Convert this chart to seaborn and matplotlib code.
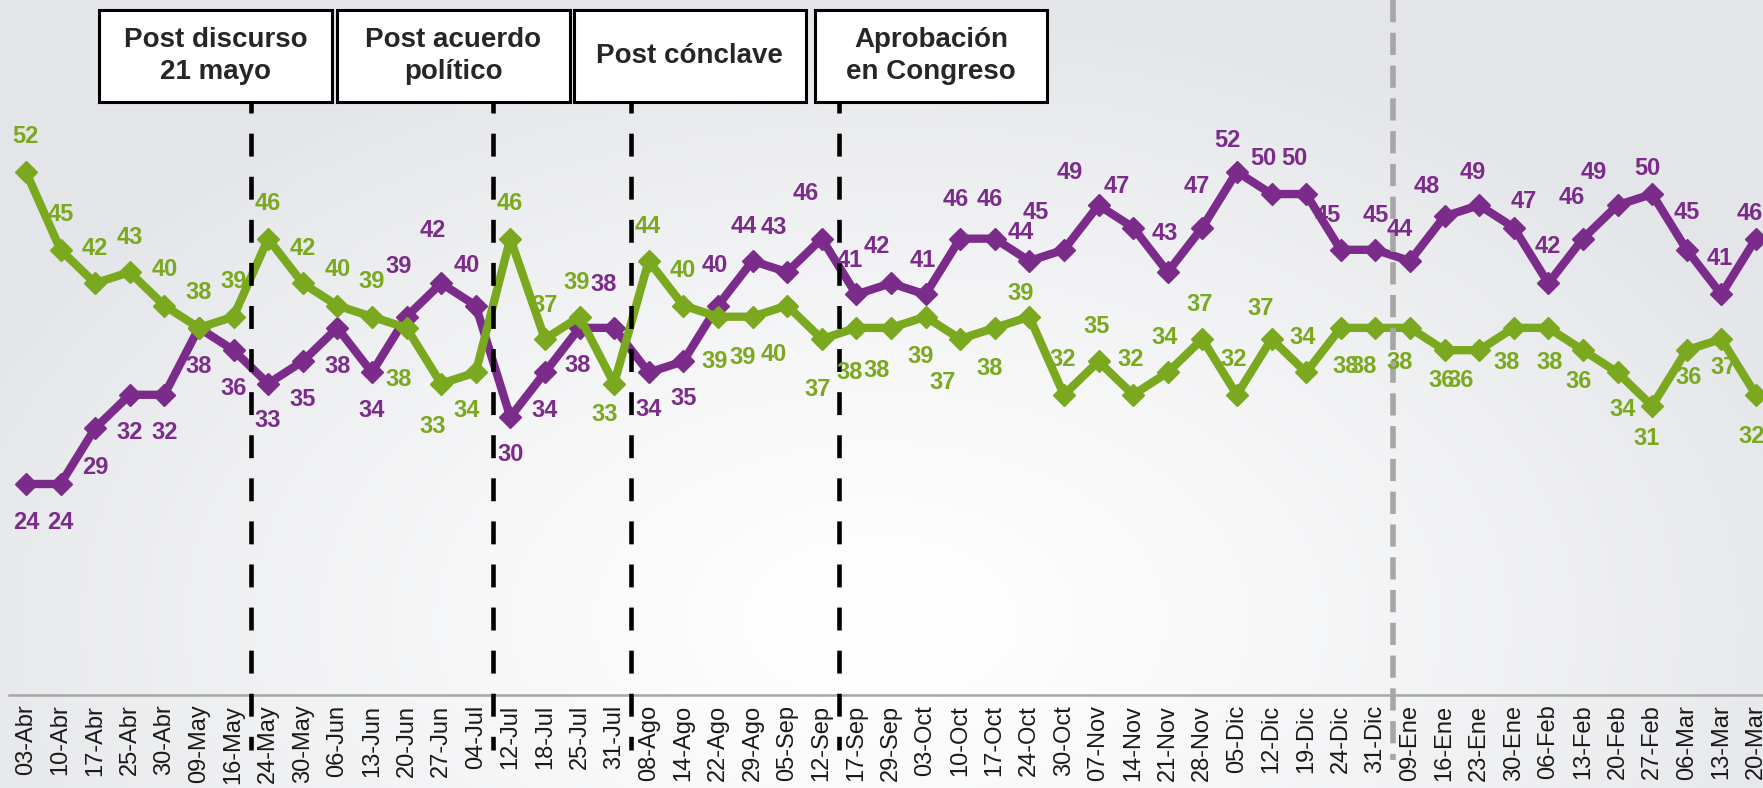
import numpy as np
import pandas as pd
import matplotlib
matplotlib.use('Agg')
import matplotlib.pyplot as plt
import seaborn as sns
from matplotlib.patches import Rectangle

# fechas de medición
fechas = ['03-Abr', '10-Abr', '17-Abr', '25-Abr', '30-Abr', '09-May', '16-May', '24-May',
          '30-May', '06-Jun', '13-Jun', '20-Jun', '27-Jun', '04-Jul', '12-Jul', '18-Jul',
          '25-Jul', '31-Jul', '08-Ago', '14-Ago', '22-Ago', '29-Ago', '05-Sep', '12-Sep',
          '17-Sep', '29-Sep', '03-Oct', '10-Oct', '17-Oct', '24-Oct', '30-Oct', '07-Nov',
          '14-Nov', '21-Nov', '28-Nov', '05-Dic', '12-Dic', '19-Dic', '24-Dic', '31-Dic',
          '09-Ene', '16-Ene', '23-Ene', '30-Ene', '06-Feb', '13-Feb', '20-Feb', '27-Feb',
          '06-Mar', '13-Mar', '20-Mar']

# serie morada
morado = [24, 24, 29, 32, 32, 38, 36, 33, 35, 38, 34, 39, 42, 40, 30, 34, 38, 38, 34, 35,
          40, 44, 43, 46, 41, 42, 41, 46, 46, 44, 45, 49, 47, 43, 47, 52, 50, 50, 45, 45,
          44, 48, 49, 47, 42, 46, 49, 50, 45, 41, 46]

# serie verde
verde = [52, 45, 42, 43, 40, 38, 39, 46, 42, 40, 39, 38, 33, 34, 46, 37, 39, 33, 44, 40,
         39, 39, 40, 37, 38, 38, 39, 37, 38, 39, 32, 35, 32, 34, 37, 32, 37, 34, 38, 38,
         38, 36, 36, 38, 38, 36, 34, 31, 36, 37, 32]

# hitos (texto de las cajas y posición entre fechas)
hitos = ['Post discurso\n21 mayo', 'Post acuerdo\npolítico', 'Post cónclave', 'Aprobación\nen Congreso']
hitos_x = [6.5, 13.5, 17.5, 23.5]
corte_anio = 39.5

MORADO = '#7B2C8A'
VERDE = '#7AA81E'

# desplazamiento de etiquetas en pixeles (dx, dy)
off_morado = [(0, -38), (0, -38), (0, -39), (0, -38), (0, -38), (0, -39), (0, -38), (0, -37),
              (0, -38), (0, -39), (0, -38), (-8, 50), (-8, 53), (-9, 40), (0, -37), (0, -38),
              (-2, -38), (-10, 43), (0, -37), (0, -37), (-3, 40), (-9, 34), (-13, 45), (-16, 45),
              (-7, 34), (-14, 37), (-3, 34), (-4, 39), (-5, 39), (-9, 28), (-28, 37), (-29, 33),
              (-16, 41), (-3, 39), (-6, 41), (-9, 31), (-8, 36), (-12, 36), (-13, 34), (0, 34),
              (-10, 31), (-18, 30), (-6, 33), (10, 26), (0, 37), (-11, 41), (-24, 33), (-5, 26),
              (0, 37), (-2, 36), (-6, 25)]
off_verde = [(0, 35), (0, 35), (0, 35), (0, 35), (0, 36), (0, 35), (0, 35), (0, 35),
             (0, 35), (0, 36), (0, 35), (-8, -52), (-8, -43), (-9, -38), (-1, 35), (0, 34),
             (-3, 34), (-9, -31), (-1, 34), (-1, 35), (-3, -45), (-10, -41), (-13, -49), (-4, -50),
             (-7, -45), (-14, -43), (-5, -40), (-17, -43), (-5, -41), (-9, 23), (-1, 35), (-2, 35),
             (-2, 35), (-3, 35), (-3, 35), (-3, 35), (-11, 31), (-3, 35), (5, -39), (-12, -39),
             (-10, -35), (-3, -30), (-18, -30), (-7, -35), (1, -35), (-4, -31), (5, -37), (-5, -33),
             (2, -27), (2, -28), (-4, -42)]

W, H = 1763, 788
n = len(fechas)

sns.set_style('white')
plt.rcParams['font.family'] = ['Liberation Sans', 'DejaVu Sans']

fig = plt.figure(figsize=(W / 100, H / 100), dpi=100)

# fondo degradado gris claro
bg = fig.add_axes([0, 0, 1, 1], zorder=-5)
bg.axis('off')
yy, xx = np.mgrid[0:H, 0:W]
d = np.clip(np.hypot((xx - 880) / 1000, (yy - 620) / 620), 0, 1) ** 1.3
borde = np.array([0.895, 0.9, 0.912])
img = (1 - d)[..., None] * np.ones(3) + d[..., None] * borde
bg.imshow(img, aspect='auto', extent=(0, 1, 0, 1), origin='upper')
bg.set_xlim(0, 1)
bg.set_ylim(0, 1)

ax = fig.add_axes([8.6 / W, 93 / H, n * 34.6 / W, 695 / H])
ax.patch.set_alpha(0)

df = pd.DataFrame({'idx': np.arange(n), 'fecha': fechas, 'morado': morado, 'verde': verde})
largo = df.melt(id_vars=['idx', 'fecha'], var_name='serie', value_name='pct')
sns.lineplot(data=largo, x='idx', y='pct', hue='serie', palette={'morado': MORADO, 'verde': VERDE},
             marker='D', markersize=11.5, markeredgewidth=1, linewidth=6, legend=False,
             sort=False, ax=ax, zorder=2)
for ln, c in zip(ax.get_lines(), [MORADO, VERDE]):
    ln.set_markeredgecolor(c)

px = 72 / 100
for vals, offs, c in [(morado, off_morado, MORADO), (verde, off_verde, VERDE)]:
    for i, v in enumerate(vals):
        dx, dy = offs[i]
        ax.annotate(str(v), (i, v), xytext=(dx * px, dy * px), textcoords='offset points',
                    ha='center', va='center', fontsize=17, fontweight='bold', color=c,
                    zorder=5, annotation_clip=False)

ax.set_xlim(-0.5, n - 0.5)
ax.set_ylim(5.08, 67.4)
ax.set_xticks(np.arange(-0.5, n, 1))
ax.set_xticklabels([])
ax.set_xticks(np.arange(n), minor=True)
ax.set_xticklabels(fechas, minor=True, rotation=90, fontsize=17, color='#1a1a1a')
ax.tick_params(axis='x', which='major', length=6, width=1.5, color='#A6A6A6', direction='out')
ax.tick_params(axis='x', which='minor', length=0, pad=7)
ax.set_yticks([])
for s in ['top', 'right', 'left']:
    ax.spines[s].set_visible(False)
ax.spines['bottom'].set_color('#A6A6A6')
ax.spines['bottom'].set_linewidth(1.8)
ax.set_xlabel('')
ax.set_ylabel('')

# lineas verticales de hitos
trans = ax.get_xaxis_transform()
for xv in hitos_x:
    ax.plot([xv, xv], [0.853, -0.079], transform=trans, color='black', lw=3.3,
            linestyle=(2.6, (5.0, 4.4)), clip_on=False, zorder=3)
ax.plot([corte_anio, corte_anio], [1.0, -0.094], transform=trans, color='#A6A6A6', lw=4,
        linestyle=(0, (4.0, 1.9)), clip_on=False, zorder=3)

# cajas de hitos
cajas = [(98.7, 332), (336.7, 570), (573.7, 806), (814.8, 1047.4)]
for (x0, x1), txt in zip(cajas, hitos):
    fig.add_artist(Rectangle((x0 / W, 1 - 102 / H), (x1 - x0) / W, 92 / H,
                             transform=fig.transFigure, facecolor='white',
                             edgecolor='black', lw=2.2, zorder=6))
    fig.text((x0 + x1) / 2 / W, 1 - 56 / H, txt, ha='center', va='center', fontsize=20,
             fontweight='bold', linespacing=1.3, zorder=7)

fig.savefig('out.png', dpi=100)
